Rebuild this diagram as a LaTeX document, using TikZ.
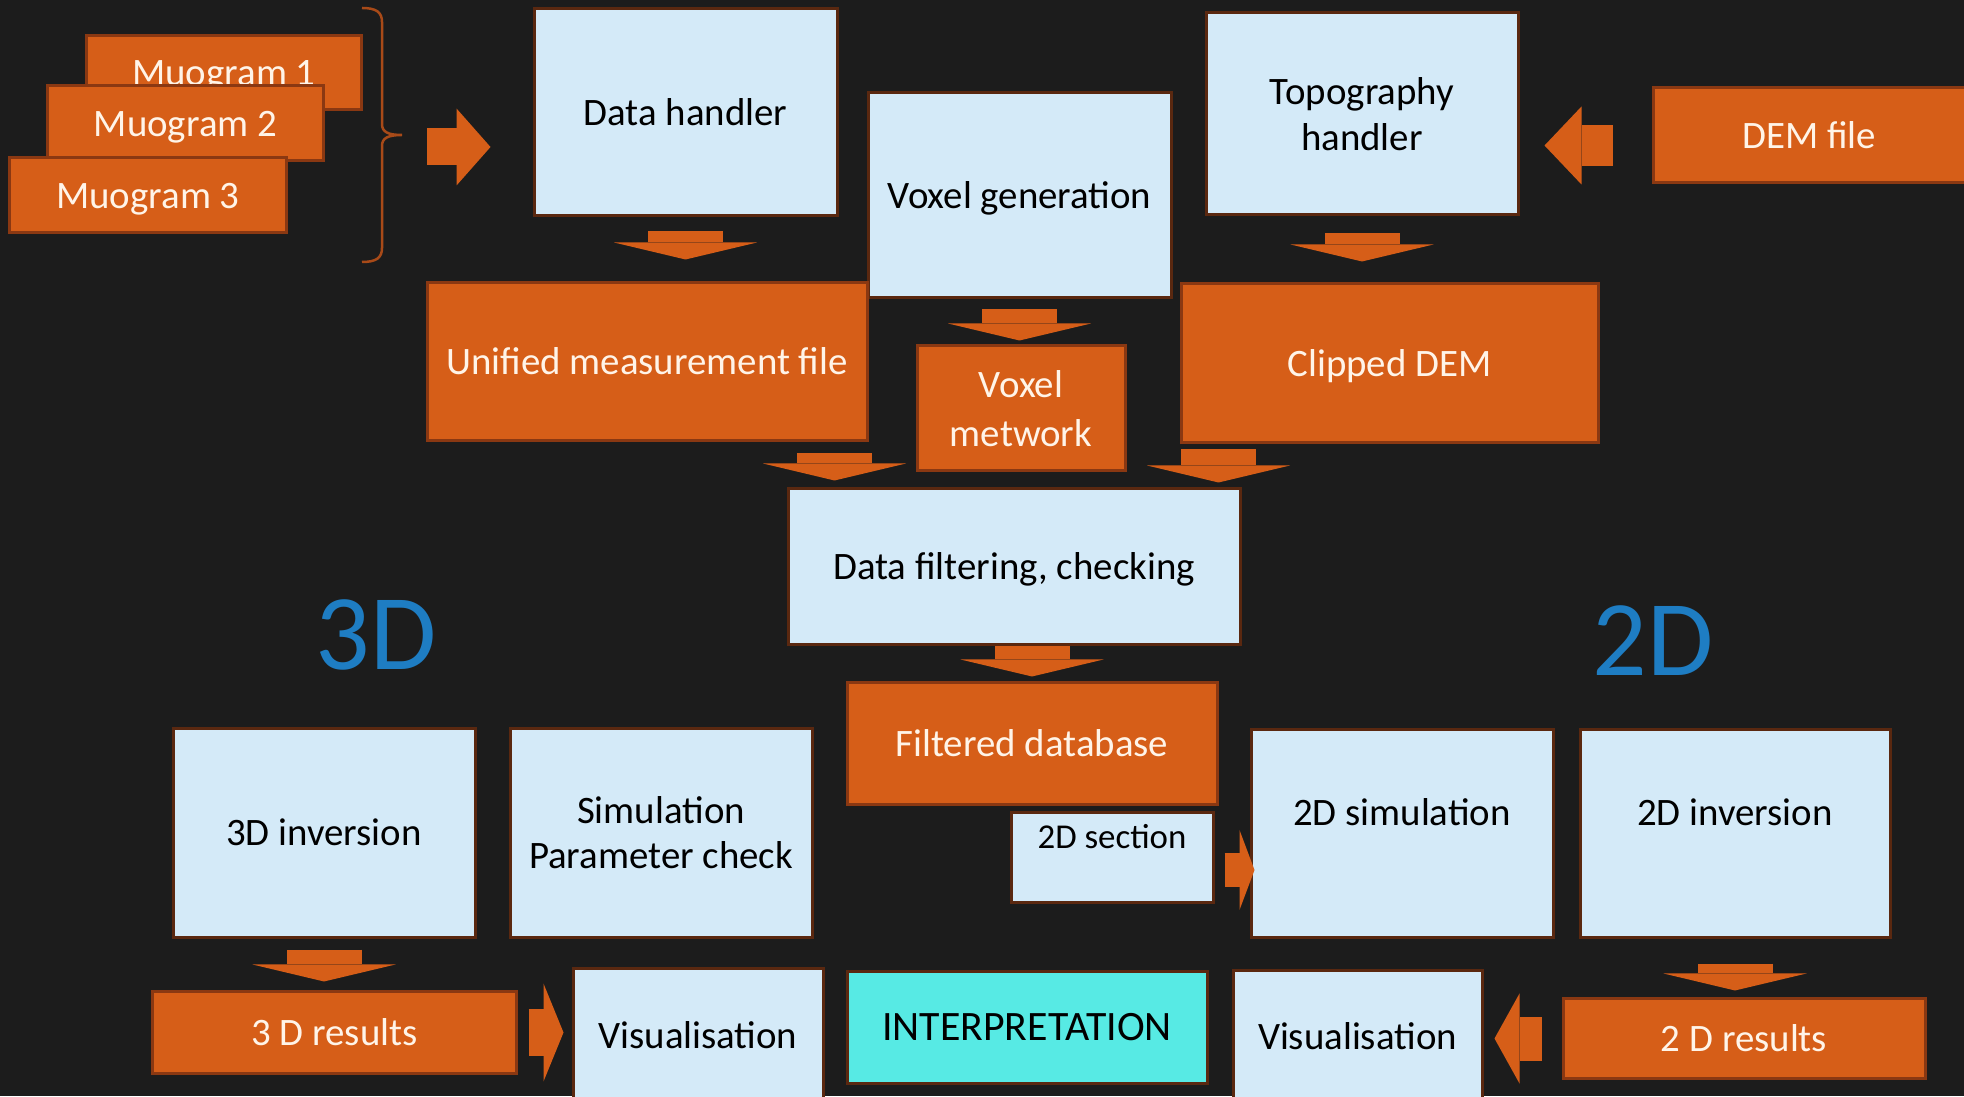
\documentclass[tikz,border=0pt]{standalone}
\usepackage{fontspec}
\setmainfont{Carlito}
\usetikzlibrary{arrows.meta}
\definecolor{bgdark}{HTML}{1C1C1C}
\definecolor{boxblue}{HTML}{D4EAF8}
\definecolor{boxorange}{HTML}{D65E18}
\definecolor{boxcyan}{HTML}{57EAE4}
\definecolor{edgebrown}{HTML}{5A2810}
\definecolor{edgeorange}{HTML}{8A3812}
\definecolor{braceorange}{HTML}{A84A18}
\definecolor{labelblue}{HTML}{1E7DC3}
\definecolor{textcream}{HTML}{FFF4E8}

\begin{document}
\begin{tikzpicture}[x=1bp,y=1bp,
  box/.style={rectangle,inner sep=0pt,line width=3bp,align=center,font=\fontsize{39}{46}\selectfont},
  lfill/.style={box,fill=boxblue,draw=edgebrown,text=black},
  ofill/.style={box,fill=boxorange,draw=edgeorange,text=textcream},
  oneline/.style={text height=36bp,text depth=10bp},
  lbox/.style={lfill,oneline},
  obox/.style={ofill,oneline},
  cbox/.style={box,oneline,fill=boxcyan,draw=edgebrown,text=black},
  dimlabel/.style={text=labelblue,font=\fontsize{108}{108}\selectfont},
  dnflow/.style={draw=boxorange,line width=75bp,-{Triangle[width=143bp,length=17bp,line width=0pt]}},
  sdflow/.style n args={3}{draw=boxorange,line width=#1,-{Triangle[width=#2,length=#3,line width=0pt]}}]
\path[use as bounding box] (0,0) rectangle (1964,1096);
\fill[bgdark] (0,0) rectangle (1964,1096);
% input muograms
\node[obox,minimum width=274bp,text height=50bp,text depth=24bp] (mg1) at (224,1023) {Muogram 1};
\node[obox,minimum width=275bp,minimum height=75bp] (mg2) at (185.5,972.5) {Muogram 2};
\node[obox,minimum width=276bp,minimum height=75bp] (mg3) at (148,900.5) {Muogram 3};
\draw[braceorange,line width=2.5bp] (362,1088) .. controls (376,1088) and (382,1084) .. (382,1074) -- (382,972) .. controls (382,964) and (388,961) .. (402,961) .. controls (388,961) and (382,958) .. (382,950) -- (382,848) .. controls (382,838) and (376,834) .. (362,834);
% top row
\node[lbox,minimum width=303bp,minimum height=207bp] (dh) at (685.5,983.5) {Data handler};
\node[lbox,minimum width=303bp,minimum height=205bp] (vg) at (1019.5,900.5) {Voxel generation};
\node[lfill,minimum width=312bp,minimum height=202bp] (th) at (1362,982) {Topography\\handler};
\node[obox,minimum width=312bp,minimum height=95bp] (dem) at (1809,960.5) {DEM file};
% intermediate files
\node[obox,minimum width=440bp,minimum height=158bp] (umf) at (647,734) {Unified measurement file};
\node[ofill,minimum width=208bp,minimum height=125bp,font=\fontsize{39}{49}\selectfont] (vn) at (1021,687.5) {Voxel\\metwork};
\node[obox,minimum width=417bp,minimum height=159bp] (cd) at (1389.5,732.5) {Clipped DEM};
\node[lbox,minimum width=452bp,minimum height=156bp] (df) at (1014,529) {Data filtering, checking};
\node[obox,minimum width=370bp,minimum height=122bp] (fdb) at (1032,352) {Filtered database};
\node[lfill,minimum width=202bp,text height=36bp,text depth=54bp,font=\fontsize{35}{42}\selectfont] (sec) at (1112,238) {2D section};
% 3D branch
\node[dimlabel] (lbl3) at (376,461) {3D};
\node[lbox,minimum width=302bp,minimum height=208bp] (inv3) at (324,263) {3D inversion};
\node[lfill,minimum width=302bp,minimum height=208bp,font=\fontsize{39}{45}\selectfont] (spc) at (661,263) {Simulation\\Parameter check};
\node[obox,minimum width=363bp,minimum height=81bp] (res3) at (334.5,63.5) {3 D results};
\node[lbox,minimum width=250bp,minimum height=132bp] (vis3) at (698,61) {Visualisation};
% 2D branch
\node[dimlabel] (lbl2) at (1653,455) {2D};
\node[lfill,minimum width=302bp,text height=96bp,text depth=111bp] (sim2) at (1402,262.5) {2D simulation};
\node[lfill,minimum width=310bp,text height=96bp,text depth=111bp] (inv2) at (1735,262.5) {2D inversion};
\node[obox,minimum width=362bp,minimum height=79bp] (res2) at (1744,57.5) {2 D results};
\node[lbox,minimum width=249bp,minimum height=130bp] (vis2) at (1357.5,60) {Visualisation};
\node[cbox,minimum width=360bp,minimum height=111bp,font=\fontsize{42}{46}\selectfont] (int) at (1027,68.5) {INTERPRETATION};
% flow arrows
\coordinate (mgout) at (427,949);
\coordinate (dm) at ([yshift=-10bp]dem.west);
\coordinate (ua) at ([xshift=-34bp]umf.south east);
\coordinate (ca) at ([xshift=39bp]cd.south west);
\coordinate (sc) at ([yshift=-12bp]sec.east);
\draw[sdflow={37bp}{77bp}{34bp},shorten >=42bp] (mgout) -- (mgout -| dh.west);
\draw[sdflow={41bp}{78bp}{37bp},shorten <=39bp,shorten >=25bp] (dm) -- (dm -| th.east);
\draw[dnflow,shorten <=14bp,shorten >=22bp] (dh.south) -- (dh.south |- umf.north);
\draw[dnflow,shorten <=10bp,shorten >=4bp] (vg.south) -- (vg.south |- vn.north);
\draw[dnflow,shorten <=17bp,shorten >=21bp] (th.south) -- (th.south |- cd.north);
\draw[dnflow,shorten <=11bp,shorten >=7bp] (ua) -- (ua |- df.north);
\draw[dnflow,shorten <=5bp,shorten >=5bp] (ca) -- (ca |- df.north);
\draw[dnflow,shorten >=5bp] (fdb.north |- df.south) -- (fdb.north);
\draw[sdflow={34bp}{80bp}{15bp},shorten <=10bp,shorten >=-5bp] (sc) -- (sc -| sim2.west);
\draw[dnflow,shorten <=11bp,shorten >=9bp] (inv3.south) -- (inv3.south |- res3.north);
\draw[dnflow,shorten <=25bp,shorten >=7bp] (inv2.south) -- (inv2.south |- res2.north);
\draw[sdflow={47bp}{98bp}{20bp},shorten <=11bp,shorten >=8bp] (res3.east) -- (res3.east -| vis3.west);
\draw[sdflow={44bp}{90bp}{25bp},shorten <=20bp,shorten >=11bp] (res2.west) -- (res2.west -| vis2.east);
\end{tikzpicture}
\end{document}
